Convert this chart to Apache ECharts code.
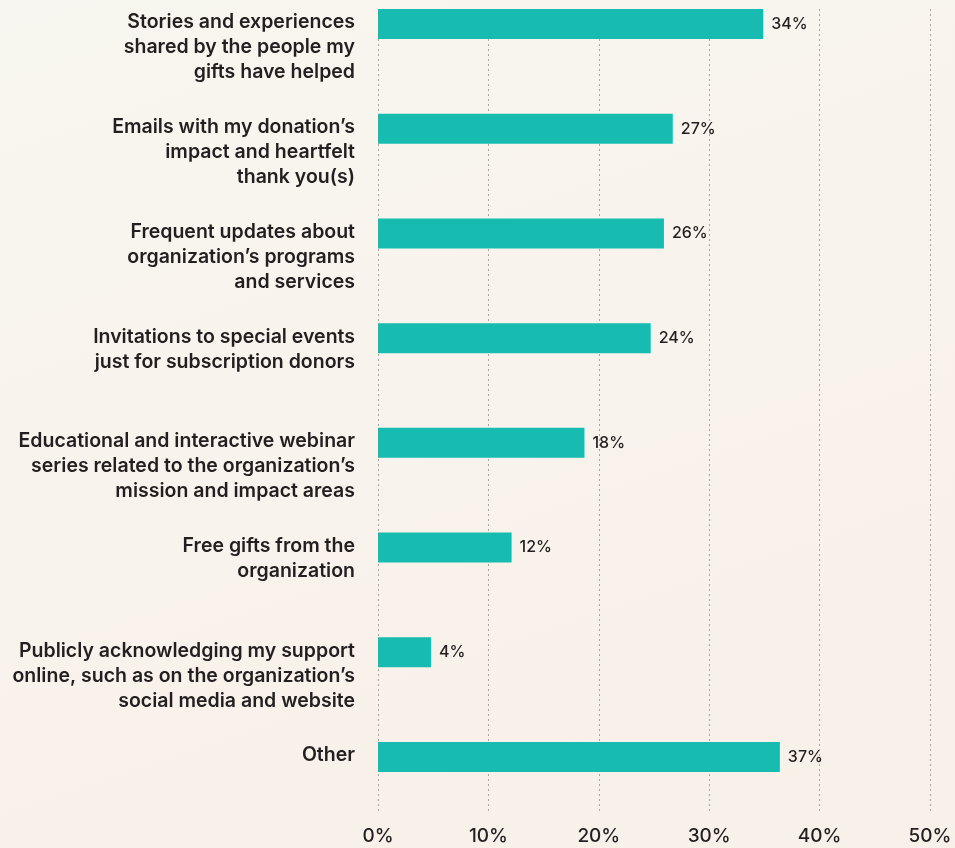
<!DOCTYPE html>
<html>
<head>
<meta charset="utf-8">
<script src="https://cdn.jsdelivr.net/npm/echarts@6/dist/echarts.min.js"></script>
<style>
html,body{margin:0;padding:0;}
#main{width:955px;height:848px;}
</style>
</head>
<body>
<div id="main"></div>
<script>
const categories = [
  "Stories and experiences\nshared by the people my\ngifts have helped",
  "Emails with my donation’s\nimpact and heartfelt\nthank you(s)",
  "Frequent updates about\norganization’s programs\nand services",
  "Invitations to special events\njust for subscription donors",
  "Educational and interactive webinar\nseries related to the organization’s\nmission and impact areas",
  "Free gifts from the\norganization",
  "Publicly acknowledging my support\nonline, such as on the organization’s\nsocial media and website",
  "Other"
];
const values = [34.9, 26.7, 25.9, 24.7, 18.7, 12.1, 4.8, 36.4];
const valueLabels = ["34%", "27%", "26%", "24%", "18%", "12%", "4%", "37%"];
const xTicks = [0, 10, 20, 30, 40, 50];

const chart = echarts.init(document.getElementById('main'));
const FONT = 'Inter';
const TXT = '#231f20';
chart.setOption({
  backgroundColor: new echarts.graphic.LinearGradient(0, 0, 0.3, 1, [
    {offset: 0, color: '#f8f6f0'},
    {offset: 1, color: '#f8f1ea'}
  ]),
  animation: false,
  grid: [
    {left: 378, right: 25, top: 9, bottom: 35},
    {left: 378, right: 25, top: 24, bottom: 91}
  ],
  xAxis: [
    {
      gridIndex: 0, type: 'value', min: xTicks[0], max: xTicks[xTicks.length - 1], interval: 10,
      axisLine: {show: false}, axisTick: {show: false},
      axisLabel: {formatter: v => v + '%', color: TXT, fontFamily: FONT, fontSize: 19, fontWeight: 500, margin: 14},
      splitLine: {show: true, lineStyle: {color: '#a9a6a2', type: [2, 3], width: 1}}
    },
    {
      gridIndex: 1, type: 'value', min: xTicks[0], max: xTicks[xTicks.length - 1],
      show: false, splitLine: {show: false}
    }
  ],
  yAxis: [
    {gridIndex: 0, type: 'category', data: categories, show: false},
    {
      gridIndex: 1, type: 'category', data: categories, inverse: true, boundaryGap: false,
      axisLine: {show: false}, axisTick: {show: false}, splitLine: {show: false},
      axisLabel: {
        color: TXT, fontFamily: FONT, fontSize: 19.5, fontWeight: 600,
        lineHeight: 25, align: 'right', verticalAlign: 'top',
        padding: [-14, 0, 0, 0], margin: 23
      }
    }
  ],
  series: [{
    type: 'bar', xAxisIndex: 1, yAxisIndex: 1,
    data: values, barWidth: 30,
    itemStyle: {color: '#17bbb0'},
    label: {
      show: true, position: 'right', distance: 8,
      formatter: p => valueLabels[p.dataIndex],
      color: TXT, fontFamily: FONT, fontSize: 16, fontWeight: 500
    }
  }]
});
</script>
</body>
</html>
